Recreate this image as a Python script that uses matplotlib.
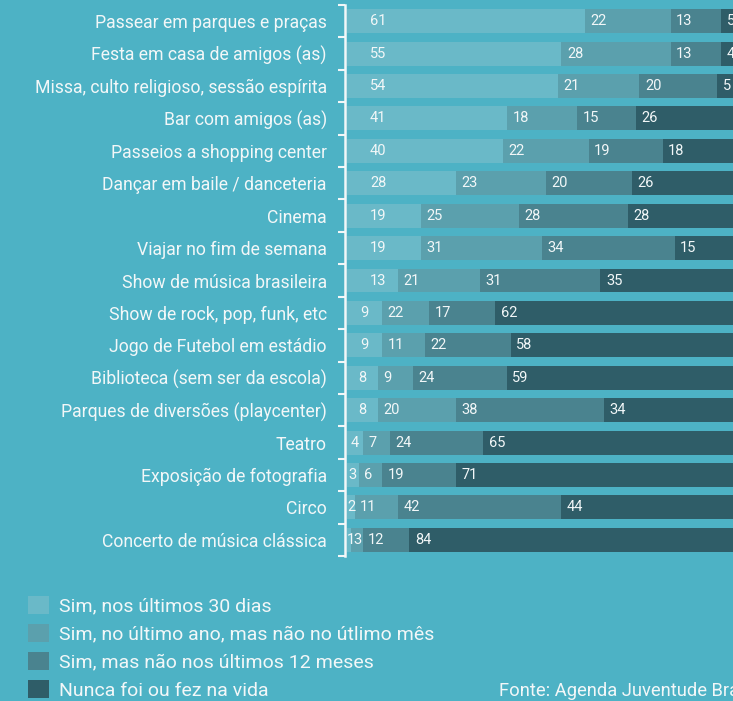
import numpy as np
import matplotlib
matplotlib.use("Agg")
import matplotlib.pyplot as plt

plt.rcParams['font.family'] = ['Roboto', 'DejaVu Sans']

categories = [
    "Passear em parques e praças",
    "Festa em casa de amigos (as)",
    "Missa, culto religioso, sessão espírita",
    "Bar com amigos (as)",
    "Passeios a shopping center",
    "Dançar em baile / danceteria",
    "Cinema",
    "Viajar no fim de semana",
    "Show de música brasileira",
    "Show de rock, pop, funk, etc",
    "Jogo de Futebol em estádio",
    "Biblioteca (sem ser da escola)",
    "Parques de diversões (playcenter)",
    "Teatro",
    "Exposição de fotografia",
    "Circo",
    "Concerto de música clássica",
]

series_names = [
    "Sim, nos últimos 30 dias",
    "Sim, no último ano, mas não no útlimo mês",
    "Sim, mas não nos últimos 12 meses",
    "Nunca foi ou fez na vida",
]

# bar widths as drawn in the picture
sim_30 = [61, 55, 54, 41, 40, 28, 19, 19, 13, 9, 9, 8, 8, 4, 3, 2, 1]
sim_ano = [22, 28, 21, 18, 22, 23, 25, 31, 21, 12, 11, 9, 20, 7, 6, 11, 3]
sim_12 = [13, 13, 20, 15, 19, 22, 28, 34, 31, 17, 22, 24, 38, 24, 19, 42, 12]
nunca = [5, 4, 5, 26, 18, 26, 28, 15, 35, 62, 58, 59, 34, 65, 71, 44, 84]

# numbers printed on the bars (two of them don't match the drawn width)
sim_ano_text = [22, 28, 21, 18, 22, 23, 25, 31, 21, 22, 11, 9, 20, 7, 6, 11, 3]
sim_12_text = [13, 13, 20, 15, 19, 20, 28, 34, 31, 17, 22, 24, 38, 24, 19, 42, 12]

source = "Fonte: Agenda Juventude Brasil"

bg = '#4db2c5'
colors = ['#6ab9c8', '#5ba0ad', '#4a838f', '#2f5d68']
white = '#f2f7f8'

fig = plt.figure(figsize=(7.33, 7.01), dpi=100)
fig.patch.set_facecolor(bg)

W, H = 733, 701
ax = fig.add_axes([347 / W, 1 - 556 / H, 1 - 347 / W, 551 / H])
ax.set_facecolor(bg)

y = np.arange(len(categories))
left = np.zeros(len(categories))
all_vals = [sim_30, sim_ano, sim_12, nunca]
all_text = [sim_30, sim_ano_text, sim_12_text, nunca]
handles = []
for k, (vals, texts, color, name) in enumerate(zip(all_vals, all_text, colors, series_names)):
    vals = np.array(vals)
    b = ax.barh(y, vals, left=left, height=0.74, color=color, label=name)
    handles.append(b)
    for i in range(len(vals)):
        v = vals[i]
        if k == 0:
            if v >= 12:
                xpos, ha = 8, 'center'
            elif v > 2:
                xpos, ha = v / 2, 'center'
            else:
                xpos, ha = 0.0, 'left'
        elif v < 5:
            xpos, ha = left[i] + v / 2 + 0.3, 'center'
        else:
            xpos, ha = left[i] + 1.4, 'left'
        ax.text(xpos, y[i], str(texts[i]), ha=ha, va='center',
                color=white, fontsize=10.5)
    left = left + vals

ax.set_xlim(0, 99)
ax.set_ylim(len(categories) - 0.5, -0.5)

for s in ['top', 'right', 'bottom']:
    ax.spines[s].set_visible(False)
ax.spines['left'].set_position(('outward', 1.5))
ax.spines['left'].set_color(white)
ax.spines['left'].set_linewidth(1.8)

ax.set_xticks([])
ax.set_yticks(y, categories)
ax.set_yticks(np.arange(-0.5, len(categories), 1), minor=True)
ax.tick_params(axis='y', which='major', length=0, pad=13, labelsize=12.7, labelcolor=white)
ax.tick_params(axis='y', which='minor', length=5, width=1.5, color=white, direction='out')

leg = fig.legend(handles, series_names, loc='upper left',
                 bbox_to_anchor=(28 / W, 1 - 596 / H), frameon=False,
                 fontsize=14, handlelength=1.08, handleheight=1.08,
                 handletextpad=0.52, labelspacing=0.42,
                 borderpad=0, borderaxespad=0)
for t in leg.get_texts():
    t.set_color(white)

fig.text(499 / W, 1 - 696 / H, source, color=white, fontsize=13.2, va='baseline')

fig.savefig('out.png', dpi=100, facecolor=bg)
